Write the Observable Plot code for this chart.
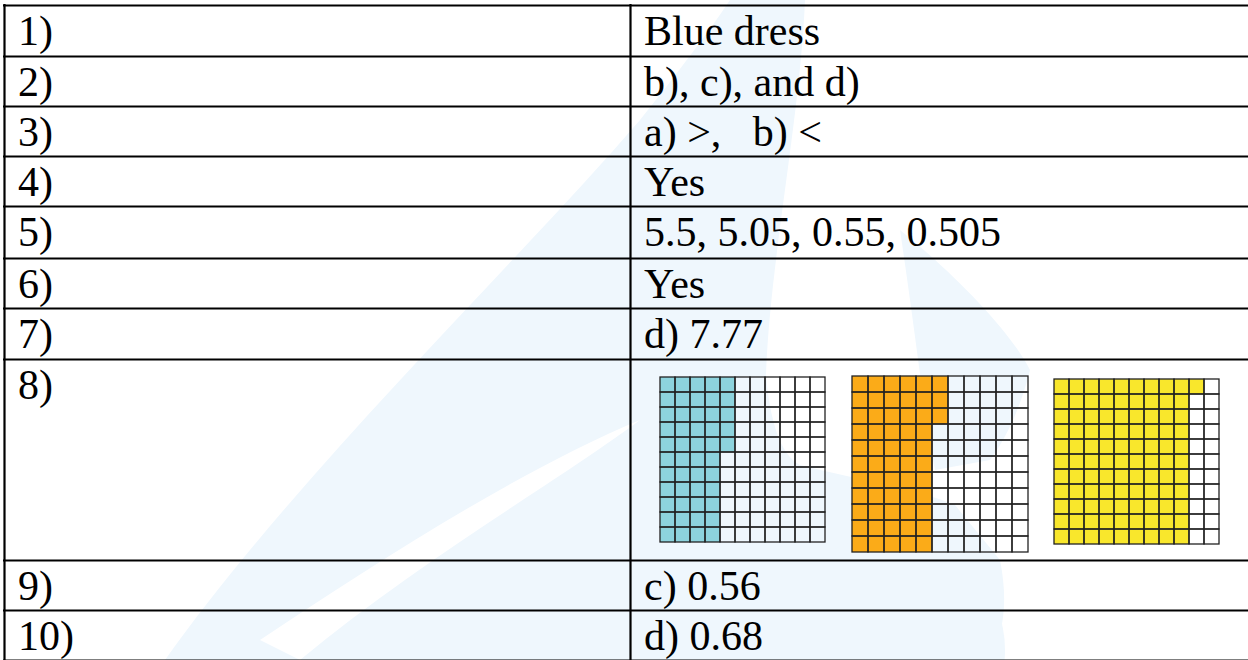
<!DOCTYPE html>
<html><head><meta charset="utf-8">
<script src="https://cdn.jsdelivr.net/npm/d3@7"></script>
<script src="https://cdn.jsdelivr.net/npm/@observablehq/plot@0.6"></script>
<style>
html,body{margin:0;padding:0;background:#fff;}
#page{position:relative;width:1248px;height:660px;overflow:hidden;}
.grid{position:absolute;}
</style></head><body><div id="page"></div>
<script>
// ---- data ----
const rowLabels = ["1)","2)","3)","4)","5)","6)","7)","8)","9)","10)"];
const answers = ["Blue dress","b), c), and d)","a) >,\u00a0\u00a0\u00a0b) <","Yes","5.5, 5.05, 0.55, 0.505","Yes","d) 7.77","","c) 0.56","d) 0.68"];
const gridNames = ["blue","orange","yellow"];
const gridColors = ["#8dd3dd","#fbab18","#f9e72c"];
const gridSize = 11;
const blueShaded   = [5,5,5,5,5,4,4,4,4,4,4];
const orangeShaded = [6,6,6,5,5,5,5,5,5,5,5];
const yellowShaded = [10,9,9,9,9,9,9,9,9,9,9];

// ---- layout ----
const W = 1248, H = 660;
const tableTop = 5, leftX = 4, divX = 630;
const labelX = 18, answerX = 644;
const rowHeights = [51,50,50,50,52,50,51,201,50,50];
const lineYs = [tableTop];
rowHeights.forEach(h => lineYs.push(lineYs[lineYs.length-1] + h));
const rows = rowLabels.map((l, i) => ({label: l, answer: answers[i], top: lineYs[i]}));
const baseOff = 39.5;

function watermark() {
  const g = d3.create("svg:g");
  const fill = "#eff7fd";
  g.append("path").attr("fill", fill)
    .attr("d", "M165,660 C300,470 520,260 640,120 C680,70 710,30 730,0 L805,0 C800,120 770,260 766,375 C770,420 780,455 800,465 C860,480 920,490 955,505 L1000,560 C1010,610 1000,640 990,660 Z");
  g.append("path").attr("fill", fill)
    .attr("d", "M900,230 C950,270 1010,330 1030,370 C1020,410 1005,440 990,460 L935,470 C925,420 915,330 900,230 Z");
  g.append("circle").attr("fill", fill).attr("cx", 890).attr("cy", 650).attr("r", 115);
  g.append("path").attr("fill", "#ffffff")
    .attr("d", "M260,640 C380,560 520,470 640,420 C560,480 420,560 300,660 Z");
  return g.node();
}

// table text layer drawn through the plot's (identity) scales
function tableText(index, scales) {
  const sx = scales && scales.x ? scales.x : (v => v);
  const sy = scales && scales.y ? scales.y : (v => v);
  const g = d3.create("svg:g")
    .attr("font-family", "'Liberation Serif', 'Times New Roman', serif")
    .attr("font-size", 42).attr("fill", "#000").attr("text-anchor", "start");
  g.selectAll("text.lab").data(rows).join("text").attr("class", "lab")
    .attr("text-anchor", "start")
    .attr("x", sx(labelX)).attr("y", d => sy(d.top + baseOff)).text(d => d.label);
  g.selectAll("text.ans").data(rows.filter(d => d.answer)).join("text").attr("class", "ans")
    .attr("text-anchor", "start")
    .attr("x", sx(answerX)).attr("y", d => sy(d.top + baseOff)).text(d => d.answer);
  return g.node();
}

const page = document.getElementById("page");
const main = Plot.plot({
  width: W, height: H, margin: 0,
  style: {background: "transparent"},
  x: {type: "identity"}, y: {type: "identity"},
  marks: [
    () => watermark(),
    Plot.ruleY(lineYs, {y: d => d, x1: 3, x2: W + 5, stroke: "#000", strokeWidth: 2.2}),
    Plot.ruleX([leftX, divX], {x: d => d, y1: tableTop - 1, y2: H + 5, stroke: "#000", strokeWidth: 2.2}),
    tableText
  ]
});
main.style.position = "absolute"; main.style.left = "0px"; main.style.top = "0px";
page.appendChild(main);

// grids (layout boxes)
const gridBoxes = [
  {x: 657, y: 375, w: 170, h: 169},
  {x: 852, y: 374, w: 176, h: 179},
  {x: 1049, y: 375, w: 174, h: 173}
];
const shadedLists = [blueShaded, orangeShaded, yellowShaded];
gridNames.forEach((name, gi) => {
  const cells = [];
  for (let r = 0; r < gridSize; r++)
    for (let c = 0; c < gridSize; c++)
      cells.push({r, c, shaded: c < shadedLists[gi][r]});
  const b = gridBoxes[gi];
  const chart = Plot.plot({
    width: b.w + 2, height: b.h + 2, margin: 1,
    style: {background: "transparent"},
    x: {type: "band", domain: d3.range(gridSize), padding: 0, axis: null},
    y: {type: "band", domain: d3.range(gridSize), padding: 0, axis: null},
    marks: [
      Plot.cell(cells.filter(d => d.shaded), {x: "c", y: "r", fill: gridColors[gi], inset: 0}),
      Plot.cell(cells, {x: "c", y: "r", fill: "none", stroke: "#222", strokeWidth: 1.3, inset: 0})
    ]
  });
  const div = document.createElement("div");
  div.className = "grid";
  div.style.left = (b.x - 1) + "px"; div.style.top = (b.y - 1) + "px";
  div.appendChild(chart);
  page.appendChild(div);
});
</script></body></html>
